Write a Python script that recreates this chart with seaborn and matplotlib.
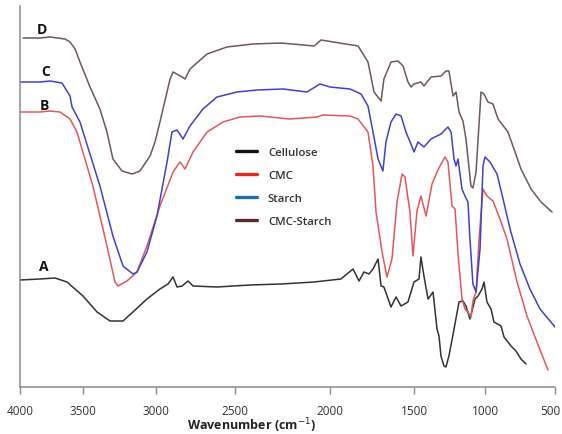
import numpy as np
import pandas as pd
import matplotlib
matplotlib.use("Agg")
import matplotlib.pyplot as plt
from matplotlib.lines import Line2D
from matplotlib.ticker import NullLocator
from matplotlib import transforms
import seaborn as sns

# ---------------- data (wavenumber cm^-1, transmittance a.u.) ----------------
cellulose_wn = [4000, 3841, 3722, 3627, 3500, 3404, 3315, 3226, 3158, 3062, 2975, 2924, 2892, 2867,
                2835, 2797, 2766, 2614, 2421, 2258, 2084, 1935, 1863, 1827, 1798, 1768, 1744, 1714,
                1696, 1679, 1637, 1607, 1577, 1536, 1500, 1465, 1451, 1430, 1401, 1366, 1338, 1324,
                1310, 1289, 1275, 1254, 1218, 1183, 1155, 1134, 1106, 1070, 1049, 1021, 1007, 986,
                957, 936, 886, 864, 814, 779, 743, 707]
cellulose_t = [107, 108, 109, 105, 91, 75, 66, 66, 75, 88, 98, 103, 110, 100,
               101, 106, 101, 100, 102, 103, 105, 108, 118, 106, 115, 113, 118, 128,
               101, 100, 80, 90, 81, 85, 105, 108, 130, 111, 88, 95, 58, 51,
               31, 21, 20, 31, 58, 85, 86, 81, 68, 88, 91, 98, 105, 85,
               78, 65, 61, 50, 41, 36, 28, 23]

cmc_wn = [4000, 3841, 3762, 3683, 3603, 3548, 3432, 3336, 3281, 3260, 3199, 3130, 3062, 2975,
          2892, 2848, 2816, 2766, 2677, 2576, 2474, 2368, 2211, 2068, 2037, 1881, 1833, 1774,
          1744, 1726, 1690, 1661, 1631, 1601, 1571, 1554, 1524, 1506, 1479, 1451, 1415, 1373,
          1338, 1317, 1282, 1261, 1232, 1211, 1190, 1162, 1141, 1120, 1099, 1085, 1063, 1042,
          1014, 986, 943, 893, 843, 771, 700, 629, 550]
cmc_t = [275, 275, 276, 275, 268, 255, 201, 141, 105, 101, 106, 115, 141, 181,
         215, 225, 218, 235, 255, 265, 270, 271, 268, 270, 272, 271, 268, 255,
         221, 175, 135, 110, 128, 185, 213, 210, 175, 131, 176, 191, 171, 203,
         215, 221, 230, 225, 181, 178, 133, 88, 78, 75, 70, 86, 95, 148,
         198, 191, 186, 168, 148, 105, 71, 45, 17]

starch_wn = [4000, 3841, 3762, 3667, 3603, 3587, 3524, 3384, 3295, 3226, 3158, 3130, 3062, 2994,
             2930, 2899, 2867, 2829, 2785, 2703, 2614, 2489, 2384, 2247, 2121, 2053, 2000, 1881,
             1815, 1774, 1744, 1714, 1685, 1667, 1637, 1607, 1577, 1548, 1518, 1500, 1472, 1430,
             1380, 1310, 1261, 1239, 1218, 1204, 1190, 1162, 1141, 1120, 1106, 1085, 1063, 1035,
             1014, 1000, 964, 914, 871, 821, 750, 679, 607, 500]
starch_t = [305, 305, 306, 304, 291, 280, 265, 201, 151, 121, 113, 115, 135, 171,
            225, 255, 257, 248, 261, 278, 290, 295, 297, 298, 295, 303, 300, 298,
            293, 281, 255, 228, 216, 245, 265, 273, 271, 255, 243, 235, 245, 240,
            248, 253, 260, 255, 228, 221, 228, 198, 191, 185, 148, 103, 95, 138,
            221, 230, 225, 213, 188, 158, 123, 98, 78, 60]

blend_wn = [3976, 3841, 3762, 3643, 3603, 3563, 3524, 3452, 3384, 3336, 3295, 3233, 3164, 3110,
            3041, 3007, 2975, 2911, 2892, 2835, 2816, 2785, 2677, 2551, 2405, 2258, 2084, 2047,
            1833, 1774, 1738, 1696, 1679, 1637, 1595, 1565, 1536, 1518, 1500, 1451, 1430, 1380,
            1310, 1275, 1254, 1225, 1204, 1183, 1155, 1134, 1099, 1085, 1063, 1028, 1007, 979,
            943, 907, 836, 793, 743, 671, 600, 521]
blend_t = [349, 349, 350, 348, 345, 338, 325, 300, 278, 255, 228, 216, 213, 216,
           231, 245, 265, 308, 315, 310, 308, 318, 333, 340, 343, 344, 341, 347,
           341, 325, 295, 286, 308, 325, 326, 321, 305, 300, 303, 305, 301, 310,
           311, 316, 316, 291, 295, 275, 266, 248, 201, 199, 215, 295, 293, 285,
           283, 268, 255, 238, 218, 198, 185, 175]

series_names = ["A", "B", "C", "D"]
legend_labels = ["Cellulose", "CMC", "Starch", "CMC-Starch"]
curve_labels = ["A", "B", "C", "D"]
x_ticks = [500, 1000, 1500, 2000, 2500, 3000, 3500, 4000]

# ---------------- styling / layout ----------------
line_colors = {"A": "#333333", "B": "#e2575c", "C": "#4141c8", "D": "#6e5858"}
legend_colors = ["#111111", "#e02a2a", "#1f6f9f", "#5a2a2c"]
# tick positions along the (non-uniform) printed axis, relative units
tick_pos = [0, 70, 141, 225, 320, 399, 472, 535]
label_pos = {"A": (3810, 121), "B": (3810, 282), "C": (3794, 316), "D": (3825, 358)}

WN = np.array(x_ticks, float)
POS = np.array(tick_pos, float)
s0 = (POS[1] - POS[0]) / (WN[1] - WN[0])
s1 = (POS[-1] - POS[-2]) / (WN[-1] - WN[-2])


def fwd(w):
    w = np.asarray(w, float)
    out = np.interp(w, WN, POS)
    out = np.where(w < WN[0], POS[0] + (w - WN[0]) * s0, out)
    out = np.where(w > WN[-1], POS[-1] + (w - WN[-1]) * s1, out)
    return out


def inv(u):
    u = np.asarray(u, float)
    out = np.interp(u, POS, WN)
    out = np.where(u < POS[0], WN[0] + (u - POS[0]) / s0, out)
    out = np.where(u > POS[-1], WN[-1] + (u - POS[-1]) / s1, out)
    return out


frames = []
for name, wn, t in [("A", cellulose_wn, cellulose_t), ("B", cmc_wn, cmc_t),
                    ("C", starch_wn, starch_t), ("D", blend_wn, blend_t)]:
    frames.append(pd.DataFrame({"wavenumber": wn, "T": t, "series": name}))
df = pd.concat(frames, ignore_index=True)

sns.set_theme(style="white")
plt.rcParams["font.family"] = ["Open Sans", "DejaVu Sans"]

fig = plt.figure(figsize=(5.62, 4.35), dpi=100)
ax = fig.add_axes([20 / 562, 47 / 435, 535 / 562, 381 / 435])

sns.lineplot(data=df, x="wavenumber", y="T", hue="series", hue_order=series_names,
             palette=line_colors, estimator=None, sort=True, linewidth=1.1,
             legend=False, ax=ax)

ax.set_xscale("function", functions=(fwd, inv))
ax.set_xlim(4000, 500)
ax.set_ylim(0, 381)
ax.set_xticks(x_ticks)
ax.set_xticklabels([str(v) for v in x_ticks])
ax.xaxis.set_minor_locator(NullLocator())
ax.set_yticks([])
ax.set_ylabel("")

for side in ["top", "right"]:
    ax.spines[side].set_visible(False)
for side in ["left", "bottom"]:
    ax.spines[side].set_color("#8a8a8a")
    ax.spines[side].set_linewidth(1.1)

ax.tick_params(axis="x", direction="out", length=5, width=1.0, color="#8a8a8a",
               pad=7, labelsize=8.5, labelcolor="#333333", bottom=True)

# the last tick label sits slightly left of its tick in the reference
fig.canvas.draw()
last = ax.get_xticklabels()[0]
last.set_transform(last.get_transform() + transforms.ScaledTranslation(-5 / 100, 0, fig.dpi_scale_trans))

ax.set_xlabel("Wavenumber (cm$^{-1}$)", fontsize=9, fontweight="bold", color="#222222")
ax.xaxis.set_label_coords(0.432, -0.074)

for name in curve_labels:
    x, y = label_pos[name]
    ax.text(x, y, name, fontsize=10, fontweight="bold", color="#111111",
            ha="center", va="center")

handles = [Line2D([0], [0], color=c, lw=2.4) for c in legend_colors]
leg = ax.legend(handles, legend_labels, loc="upper left", bbox_to_anchor=(236 / 562, (435 - 148) / 435),
                bbox_transform=fig.transFigure, frameon=False, fontsize=8.2,
                handlelength=1.8, handletextpad=1.0, labelspacing=1.05,
                borderpad=0, borderaxespad=0)
for txt in leg.get_texts():
    txt.set_color("#333333")
    txt.set_fontweight("semibold")

fig.savefig("out.png", dpi=100)
